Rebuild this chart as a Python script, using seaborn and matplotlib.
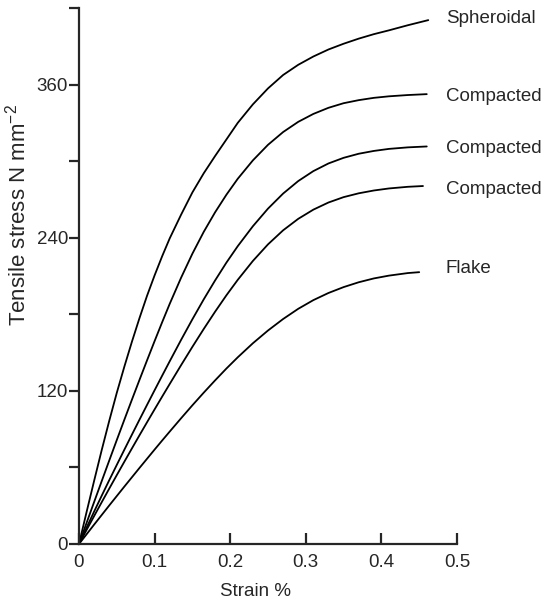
import matplotlib
matplotlib.use("Agg")
import matplotlib.pyplot as plt
import seaborn as sns
import pandas as pd
from matplotlib.ticker import MultipleLocator

# Strain (%) sampling points shared by all curves
strain = [0, 0.01, 0.02, 0.03, 0.04, 0.05, 0.06, 0.07, 0.08, 0.09, 0.10, 0.11, 0.12,
          0.135, 0.15, 0.165, 0.18, 0.195, 0.21, 0.23, 0.25, 0.27, 0.29, 0.31,
          0.33, 0.35, 0.37, 0.39, 0.41, 0.435]

# Tensile stress (N mm^-2) of each graphite form at those strains
spheroidal = [0, 25, 49.5, 73.5, 96.5, 118.5, 139, 158.5, 177, 194.5, 210.5, 225.5, 239.5,
              258, 275.5, 290.5, 304, 317, 330, 344.5, 357, 367.5, 375.5, 382, 387.5,
              392, 396, 399.5, 402.5, 406.5]
compacted_a = [0, 16.5, 32.9, 49.2, 65.4, 81.5, 97.4, 113.1, 128.6, 143.9, 159, 173.8, 188.2,
               208.6, 227.5, 244.6, 259.9, 273.7, 286.2, 300.6, 312.8, 322.8, 330.8, 337,
               341.8, 345.4, 347.8, 349.6, 350.8, 351.8]
compacted_b = [0, 12.8, 25.4, 37.8, 50, 62, 73.9, 85.7, 97.4, 109, 120.5, 131.9, 143.2,
               159.9, 176.1, 191.7, 206.5, 220.5, 233.4, 249, 262.8, 274.6, 284.4, 292.2,
               298.2, 302.6, 305.8, 308, 309.6, 310.8]
compacted_c = [0, 11, 21.9, 32.7, 43.4, 54, 64.5, 74.9, 85.2, 95.4, 105.5, 115.5, 125.4,
               140.1, 154.5, 168.5, 182, 194.9, 207, 221.8, 234.8, 245.8, 254.8, 262,
               267.6, 271.8, 274.8, 277, 278.6, 279.9]
flake = [0, 7.6, 15.2, 22.7, 30.2, 37.6, 45, 52.3, 59.6, 66.8, 74, 81.1, 88.1,
         98.5, 108.7, 118.6, 128.2, 137.5, 146.3, 157.3, 167.3, 176.3, 184.3, 191.1,
         196.7, 201.3, 205.1, 208.1, 210.3, 212.3]

# Final point of each curve
end_strain = [0.462, 0.46, 0.46, 0.455, 0.45]
end_stress = [410.5, 352.5, 311.5, 280.5, 213]

series_ids = ["spheroidal", "compacted_a", "compacted_b", "compacted_c", "flake"]
curve_labels = ["Spheroidal", "Compacted", "Compacted", "Compacted", "Flake"]
label_stress = [412, 351, 310, 278, 216]

x_ticks = [0, 0.1, 0.2, 0.3, 0.4, 0.5]
x_tick_labels = ["0", "0.1", "0.2", "0.3", "0.4", "0.5"]
y_ticks = [0, 120, 240, 360]

sns.set_style("ticks")
plt.rcParams["font.family"] = ["Liberation Sans", "DejaVu Sans"]
plt.rcParams["mathtext.fontset"] = "custom"
plt.rcParams["mathtext.rm"] = "Liberation Sans"
plt.rcParams["mathtext.it"] = "Liberation Sans:italic"

rows = []
for sid, vals, xe, ye in zip(series_ids, [spheroidal, compacted_a, compacted_b, compacted_c, flake],
                             end_strain, end_stress):
    for s, v in zip(strain + [xe], vals + [ye]):
        rows.append({"series": sid, "strain": s, "stress": v})
df = pd.DataFrame(rows)

fig = plt.figure(figsize=(5.48, 6.04), dpi=100)
ax = fig.add_axes([79 / 548, 1 - 544 / 604, 378 / 548, 536 / 604])

sns.lineplot(data=df, x="strain", y="stress", hue="series", units="series",
             estimator=None, sort=False, palette=["black"] * 5, legend=False,
             linewidth=1.3, ax=ax)

for lab, ys in zip(curve_labels, label_stress):
    ax.text(0.485, ys, lab, fontsize=13.5, ha="left", va="center", clip_on=False)

ax.set_xlim(0, 0.5)
ax.set_ylim(0, 420)
ax.set_xticks(x_ticks)
ax.set_xticklabels(x_tick_labels)
ax.set_yticks(y_ticks)
ax.set_yticklabels([str(t) for t in y_ticks])
ax.yaxis.set_minor_locator(MultipleLocator(60))

sns.despine(ax=ax)
for side in ("left", "bottom"):
    ax.spines[side].set_linewidth(1.6)

ax.tick_params(axis="x", direction="in", length=8, width=1.6, labelsize=13.5, pad=7)
ax.tick_params(axis="y", which="both", direction="out", length=7, width=1.6,
               labelsize=13.5, pad=1)

ax.set_xlabel("Strain %", fontsize=13.5)
ax.xaxis.set_label_coords(0.466, -0.072)
ax.set_ylabel(r"Tensile stress N mm$^{-2}$", fontsize=16)
ax.yaxis.set_label_coords(-0.128, 0.614)

fig.savefig("out.png", dpi=100)
